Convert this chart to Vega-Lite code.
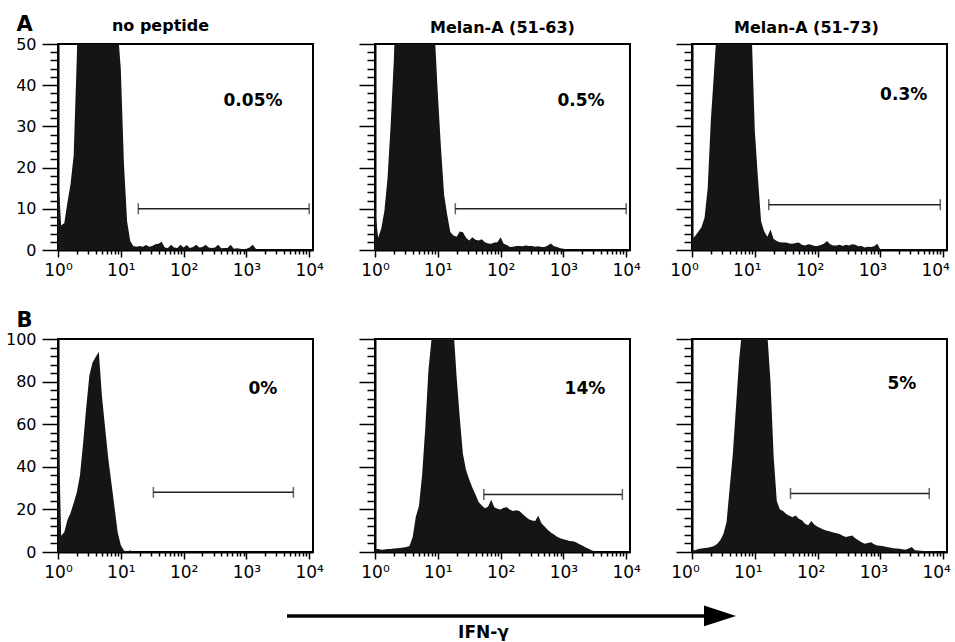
{
  "$schema": "https://vega.github.io/schema/vega-lite/v6.json",
  "background": "white",
  "padding": {"left": 4, "top": 12, "right": 3, "bottom": 0},
  "config": {
    "font": "DejaVu Sans",
    "view": {"stroke": "black", "strokeWidth": 2},
    "axis": {"domainColor": "black", "domainWidth": 2, "tickColor": "black", "tickWidth": 1.5, "labelColor": "black", "labelFont": "DejaVu Sans", "labelFontSize": 16, "titleColor": "black", "titleFont": "DejaVu Sans", "grid": false, "labelBound": false, "labelFlush": false, "labelOverlap": false},
    "axisX": {"labelFontSize": 17},
    "title": {"font": "DejaVu Sans", "fontSize": 16, "fontWeight": "bold", "color": "black", "offset": 7}
  },
  "datasets": {
    "hist": [
      {"x": 1, "a1": 19, "a2": 10, "a3": 2.7, "b1": 73, "b2": 1.4, "b3": 0.8},
      {"x": 1.122, "a1": 6, "a2": 3, "a3": 3.4, "b1": 7.6, "b2": 1.4, "b3": 0.8},
      {"x": 1.259, "a1": 6.5, "a2": 5.2, "a3": 4.4, "b1": 9.3, "b2": 1, "b3": 1.4},
      {"x": 1.413, "a1": 11.5, "a2": 9.5, "a3": 5.5, "b1": 15, "b2": 1.2, "b3": 1.6},
      {"x": 1.585, "a1": 16, "a2": 17.5, "a3": 7.8, "b1": 18.3, "b2": 1.4, "b3": 1.9},
      {"x": 1.778, "a1": 23, "a2": 30.5, "a3": 15, "b1": 23, "b2": 1.4, "b3": 2},
      {"x": 1.995, "a1": 47, "a2": 46, "a3": 31.5, "b1": 28, "b2": 1.6, "b3": 2.4},
      {"x": 2.239, "a1": 75, "a2": 70, "a3": 43, "b1": 36, "b2": 1.8, "b3": 2.8},
      {"x": 2.512, "a1": 95, "a2": 90, "a3": 55, "b1": 51, "b2": 1.9, "b3": 3.8},
      {"x": 2.818, "a1": 110, "a2": 105, "a3": 75, "b1": 68, "b2": 2.1, "b3": 5.5},
      {"x": 3.162, "a1": 120, "a2": 115, "a3": 95, "b1": 83, "b2": 2.3, "b3": 8.5},
      {"x": 3.548, "a1": 125, "a2": 120, "a3": 108, "b1": 89, "b2": 2.8, "b3": 14},
      {"x": 3.981, "a1": 125, "a2": 120, "a3": 115, "b1": 91.5, "b2": 7, "b3": 30},
      {"x": 4.467, "a1": 120, "a2": 115, "a3": 115, "b1": 94, "b2": 16.5, "b3": 46},
      {"x": 5.012, "a1": 110, "a2": 105, "a3": 110, "b1": 73, "b2": 21.6, "b3": 68},
      {"x": 5.623, "a1": 100, "a2": 95, "a3": 100, "b1": 58.5, "b2": 36, "b3": 90},
      {"x": 6.31, "a1": 85, "a2": 82, "a3": 88, "b1": 44, "b2": 58, "b3": 105},
      {"x": 7.079, "a1": 72, "a2": 70, "a3": 75, "b1": 32.5, "b2": 85, "b3": 115},
      {"x": 7.943, "a1": 62, "a2": 60, "a3": 62, "b1": 21, "b2": 100, "b3": 120},
      {"x": 8.913, "a1": 54, "a2": 53, "a3": 53, "b1": 9.3, "b2": 115, "b3": 122},
      {"x": 10, "a1": 44, "a2": 38, "a3": 29, "b1": 3.2, "b2": 125, "b3": 120},
      {"x": 11.22, "a1": 21, "a2": 25, "a3": 17.5, "b1": 0.7, "b2": 130, "b3": 118},
      {"x": 12.59, "a1": 7, "a2": 13.5, "a3": 7, "b1": 0, "b2": 130, "b3": 112},
      {"x": 14.13, "a1": 2.2, "a2": 8.5, "a3": 4.5, "b1": 0.8, "b2": 125, "b3": 106},
      {"x": 15.85, "a1": 1, "a2": 4.3, "a3": 3.2, "b1": 0, "b2": 115, "b3": 102},
      {"x": 17.78, "a1": 0.8, "a2": 3.5, "a3": 5, "b1": 0, "b2": 105, "b3": 80},
      {"x": 19.95, "a1": 1, "a2": 3.2, "a3": 2.7, "b1": 0, "b2": 82, "b3": 45},
      {"x": 22.39, "a1": 0.8, "a2": 4.5, "a3": 2.2, "b1": 0, "b2": 63, "b3": 24},
      {"x": 25.12, "a1": 1.2, "a2": 4.3, "a3": 1.9, "b1": 0, "b2": 46, "b3": 20},
      {"x": 28.18, "a1": 0.8, "a2": 3, "a3": 1.8, "b1": 0, "b2": 38.5, "b3": 19.3},
      {"x": 31.62, "a1": 1, "a2": 2.3, "a3": 1.8, "b1": 0, "b2": 34, "b3": 17.8},
      {"x": 35.48, "a1": 1.4, "a2": 3.1, "a3": 1.6, "b1": 0, "b2": 30.3, "b3": 17},
      {"x": 39.81, "a1": 1.5, "a2": 2.5, "a3": 1.5, "b1": 0, "b2": 27, "b3": 16.3},
      {"x": 44.67, "a1": 2, "a2": 2.3, "a3": 1.7, "b1": 0, "b2": 23.5, "b3": 17.1},
      {"x": 50.12, "a1": 0.6, "a2": 2.6, "a3": 1.8, "b1": 0, "b2": 21.8, "b3": 15.6},
      {"x": 56.23, "a1": 0.5, "a2": 1.9, "a3": 1.3, "b1": 0, "b2": 20.5, "b3": 14.9},
      {"x": 63.1, "a1": 1.3, "a2": 1.6, "a3": 1.1, "b1": 0, "b2": 21.2, "b3": 13.3},
      {"x": 70.79, "a1": 0.6, "a2": 1.5, "a3": 1.4, "b1": 0, "b2": 24.5, "b3": 12.6},
      {"x": 79.43, "a1": 0.5, "a2": 1.8, "a3": 1.3, "b1": 0, "b2": 21, "b3": 14.5},
      {"x": 89.13, "a1": 1.3, "a2": 1.9, "a3": 1, "b1": 0, "b2": 20.3, "b3": 12.8},
      {"x": 100, "a1": 0.6, "a2": 3.1, "a3": 1, "b1": 0, "b2": 20, "b3": 11.8},
      {"x": 112.2, "a1": 1.2, "a2": 1.5, "a3": 1.2, "b1": 0, "b2": 20.8, "b3": 11.2},
      {"x": 125.9, "a1": 0.5, "a2": 1.2, "a3": 1.5, "b1": 0, "b2": 21, "b3": 10.5},
      {"x": 141.3, "a1": 0.7, "a2": 0.7, "a3": 2.2, "b1": 0, "b2": 19.8, "b3": 10},
      {"x": 158.5, "a1": 1.3, "a2": 0.8, "a3": 1.4, "b1": 0, "b2": 19.3, "b3": 9.6},
      {"x": 177.8, "a1": 0.6, "a2": 1, "a3": 1.1, "b1": 0, "b2": 19.6, "b3": 9.2},
      {"x": 199.5, "a1": 0.7, "a2": 1, "a3": 1.1, "b1": 0, "b2": 19.2, "b3": 8.8},
      {"x": 223.9, "a1": 1.3, "a2": 0.9, "a3": 1.3, "b1": 0, "b2": 17.8, "b3": 8.4},
      {"x": 251.2, "a1": 0.6, "a2": 1.1, "a3": 1, "b1": 0, "b2": 16.5, "b3": 7.6},
      {"x": 281.8, "a1": 0.5, "a2": 1, "a3": 1.3, "b1": 0, "b2": 15.4, "b3": 7},
      {"x": 316.2, "a1": 0.6, "a2": 1, "a3": 1.1, "b1": 0, "b2": 14.8, "b3": 7.4},
      {"x": 354.8, "a1": 1.3, "a2": 0.8, "a3": 1.4, "b1": 0, "b2": 14.6, "b3": 7.8},
      {"x": 398.1, "a1": 0.4, "a2": 0.9, "a3": 1.3, "b1": 0, "b2": 17, "b3": 6.5},
      {"x": 446.7, "a1": 0.5, "a2": 0.7, "a3": 0.9, "b1": 0, "b2": 13.5, "b3": 5.5},
      {"x": 501.2, "a1": 0.5, "a2": 0.7, "a3": 1, "b1": 0, "b2": 12, "b3": 4.6},
      {"x": 562.3, "a1": 1.3, "a2": 1.1, "a3": 0.6, "b1": 0, "b2": 10.5, "b3": 3.9},
      {"x": 631, "a1": 0.3, "a2": 1.6, "a3": 0.8, "b1": 0, "b2": 9.2, "b3": 4.2},
      {"x": 707.9, "a1": 0.4, "a2": 0.9, "a3": 0.7, "b1": 0, "b2": 8.2, "b3": 4.6},
      {"x": 794.3, "a1": 0.3, "a2": 0.7, "a3": 0.9, "b1": 0, "b2": 7.2, "b3": 3.6},
      {"x": 891.3, "a1": 0.2, "a2": 0.4, "a3": 1.5, "b1": 0, "b2": 6.4, "b3": 3.1},
      {"x": 1000, "a1": 0.3, "a2": 0.3, "a3": 0.1, "b1": 0, "b2": 6, "b3": 2.9},
      {"x": 1122, "a1": 0.6, "a2": 0.2, "a3": 0, "b1": 0, "b2": 5.6, "b3": 2.7},
      {"x": 1259, "a1": 1.3, "a2": 0, "a3": 0, "b1": 0, "b2": 5.2, "b3": 2.4},
      {"x": 1413, "a1": 0.3, "a2": 0, "a3": 0, "b1": 0, "b2": 5, "b3": 2.1},
      {"x": 1585, "a1": 0, "a2": 0, "a3": 0, "b1": 0, "b2": 4.6, "b3": 1.8},
      {"x": 1778, "a1": 0, "a2": 0, "a3": 0, "b1": 0, "b2": 3.8, "b3": 1.7},
      {"x": 1995, "a1": 0, "a2": 0, "a3": 0, "b1": 0, "b2": 3, "b3": 1.5},
      {"x": 2239, "a1": 0, "a2": 0, "a3": 0, "b1": 0, "b2": 2.2, "b3": 1.3},
      {"x": 2512, "a1": 0, "a2": 0, "a3": 0, "b1": 0, "b2": 1.5, "b3": 1},
      {"x": 2818, "a1": 0, "a2": 0, "a3": 0, "b1": 0, "b2": 0.8, "b3": 1.6},
      {"x": 3162, "a1": 0, "a2": 0, "a3": 0, "b1": 0, "b2": 0.2, "b3": 2.4},
      {"x": 3548, "a1": 0, "a2": 0, "a3": 0, "b1": 0, "b2": 0, "b3": 0.8},
      {"x": 3981, "a1": 0, "a2": 0, "a3": 0, "b1": 0, "b2": 0, "b3": 0.7},
      {"x": 4467, "a1": 0, "a2": 0, "a3": 0, "b1": 0, "b2": 0, "b3": 0.6},
      {"x": 5012, "a1": 0, "a2": 0, "a3": 0, "b1": 0, "b2": 0, "b3": 0.5},
      {"x": 5623, "a1": 0, "a2": 0, "a3": 0, "b1": 0, "b2": 0, "b3": 0.4},
      {"x": 6310, "a1": 0, "a2": 0, "a3": 0, "b1": 0, "b2": 0, "b3": 0.3},
      {"x": 7079, "a1": 0, "a2": 0, "a3": 0, "b1": 0, "b2": 0, "b3": 0.1},
      {"x": 7943, "a1": 0, "a2": 0, "a3": 0, "b1": 0, "b2": 0, "b3": 0},
      {"x": 8913, "a1": 0, "a2": 0, "a3": 0, "b1": 0, "b2": 0, "b3": 0},
      {"x": 10000, "a1": 0, "a2": 0, "a3": 0, "b1": 0, "b2": 0, "b3": 0}
    ],
    "notes": [
      {"panel": "A1", "g1": 19, "g2": 10000, "gy": 10, "tx": 1274, "ty": 35, "label": "0.05%"},
      {"panel": "A2", "g1": 19, "g2": 10000, "gy": 10, "tx": 1905, "ty": 35, "label": "0.5%"},
      {"panel": "A3", "g1": 16.7, "g2": 9000, "gy": 11, "tx": 2350, "ty": 36.5, "label": "0.3%"},
      {"panel": "B1", "g1": 33, "g2": 5600, "gy": 28, "tx": 1830, "ty": 74, "label": "0%"},
      {"panel": "B2", "g1": 54, "g2": 8700, "gy": 27, "tx": 2200, "ty": 74, "label": "14%"},
      {"panel": "B3", "g1": 37, "g2": 6000, "gy": 27.5, "tx": 2200, "ty": 76.5, "label": "5%"}
    ],
    "arrow": [
      {"start": 0.0397, "end": 186000, "head": 312000, "level": -30}
    ]
  },
  "bounds": "flush",
  "columns": 3,
  "spacing": {"row": 89, "column": 62},
  "concat": [
    {
      "width": 255, "height": 206,
      "title": {"text": "no peptide", "dx": -25, "offset": -21},
      "resolve": {"axis": {"x": "independent", "y": "independent"}},
      "layer": [
        {"data": {"name": "hist"}, "mark": {"type": "area", "color": "#151515", "clip": true},
         "encoding": {
           "x": {"field": "x", "type": "quantitative", "scale": {"type": "log", "domain": [1, 11500], "nice": false},
                 "axis": {"orient": "bottom", "title": null, "values": [1, 10, 100, 1000, 10000], "tickSize": 7, "labelPadding": 5,
                          "labelExpr": "datum.value == 1 ? '10⁰' : datum.value == 10 ? '10¹' : datum.value == 100 ? '10²' : datum.value == 1000 ? '10³' : '10⁴'"}},
           "y": {"field": "a1", "type": "quantitative", "scale": {"domain": [0, 50], "nice": false},
                 "axis": {"orient": "left", "title": "A", "titleAngle": 0, "titleAlign": "left", "titleBaseline": "alphabetic", "titleX": -42, "titleY": -14, "titleFontSize": 21, "titleFontWeight": "bold",
                          "values": [0, 10, 20, 30, 40, 50], "tickSize": 16, "labelPadding": 6}}
         }},
        {"data": {"name": "notes"}, "transform": [{"filter": "datum.panel == 'A1'"}],
         "mark": {"type": "rule", "color": "#222222", "strokeWidth": 1.5},
         "encoding": {"x": {"field": "g1", "type": "quantitative", "scale": {"type": "log", "domain": [1, 11500], "nice": false},
                            "axis": {"orient": "bottom", "title": null, "labels": false, "domain": false, "tickSize": 4, "values": [2,3,4,5,6,7,8,9,20,30,40,50,60,70,80,90,200,300,400,500,600,700,800,900,2000,3000,4000,5000,6000,7000,8000,9000]}},
                      "x2": {"field": "g2"},
                      "y": {"field": "gy", "type": "quantitative", "scale": {"domain": [0, 50], "nice": false},
                            "axis": {"orient": "left", "title": null, "labels": false, "domain": false, "tickSize": 8, "values": [2,4,6,8,12,14,16,18,22,24,26,28,32,34,36,38,42,44,46,48]}}}},
        {"data": {"name": "notes"}, "transform": [{"filter": "datum.panel == 'A1'"}],
         "mark": {"type": "tick", "orient": "vertical", "size": 11, "thickness": 1.5, "color": "#222222"},
         "encoding": {"x": {"field": "g1", "type": "quantitative", "scale": {"type": "log", "domain": [1, 11500], "nice": false}, "axis": null},
                      "y": {"field": "gy", "type": "quantitative", "scale": {"domain": [0, 50], "nice": false}, "axis": null}}},
        {"data": {"name": "notes"}, "transform": [{"filter": "datum.panel == 'A1'"}],
         "mark": {"type": "tick", "orient": "vertical", "size": 11, "thickness": 1.5, "color": "#222222"},
         "encoding": {"x": {"field": "g2", "type": "quantitative", "scale": {"type": "log", "domain": [1, 11500], "nice": false}, "axis": null},
                      "y": {"field": "gy", "type": "quantitative", "scale": {"domain": [0, 50], "nice": false}, "axis": null}}},
        {"data": {"name": "notes"}, "transform": [{"filter": "datum.panel == 'A1'"}],
         "mark": {"type": "text", "font": "DejaVu Sans", "fontSize": 17, "fontWeight": "bold", "align": "center", "baseline": "alphabetic", "color": "black"},
         "encoding": {"x": {"field": "tx", "type": "quantitative", "scale": {"type": "log", "domain": [1, 11500], "nice": false}, "axis": null},
                      "y": {"field": "ty", "type": "quantitative", "scale": {"domain": [0, 50], "nice": false}, "axis": null},
                      "text": {"field": "label"}}}
      ]
    },
    {
      "width": 255, "height": 206,
      "title": {"text": "Melan-A (51-63)"},
      "resolve": {"axis": {"x": "independent", "y": "independent"}},
      "layer": [
        {"data": {"name": "hist"}, "mark": {"type": "area", "color": "#151515", "clip": true},
         "encoding": {
           "x": {"field": "x", "type": "quantitative", "scale": {"type": "log", "domain": [1, 11500], "nice": false},
                 "axis": {"orient": "bottom", "title": null, "values": [1, 10, 100, 1000, 10000], "tickSize": 7, "labelPadding": 5,
                          "labelExpr": "datum.value == 1 ? '10⁰' : datum.value == 10 ? '10¹' : datum.value == 100 ? '10²' : datum.value == 1000 ? '10³' : '10⁴'"}},
           "y": {"field": "a2", "type": "quantitative", "scale": {"domain": [0, 50], "nice": false},
                 "axis": {"orient": "left", "title": null, "labels": false, "values": [0, 10, 20, 30, 40, 50], "tickSize": 16}}
         }},
        {"data": {"name": "notes"}, "transform": [{"filter": "datum.panel == 'A2'"}],
         "mark": {"type": "rule", "color": "#222222", "strokeWidth": 1.5},
         "encoding": {"x": {"field": "g1", "type": "quantitative", "scale": {"type": "log", "domain": [1, 11500], "nice": false},
                            "axis": {"orient": "bottom", "title": null, "labels": false, "domain": false, "tickSize": 4, "values": [2,3,4,5,6,7,8,9,20,30,40,50,60,70,80,90,200,300,400,500,600,700,800,900,2000,3000,4000,5000,6000,7000,8000,9000]}},
                      "x2": {"field": "g2"},
                      "y": {"field": "gy", "type": "quantitative", "scale": {"domain": [0, 50], "nice": false},
                            "axis": {"orient": "left", "title": null, "labels": false, "domain": false, "tickSize": 8, "values": [2,4,6,8,12,14,16,18,22,24,26,28,32,34,36,38,42,44,46,48]}}}},
        {"data": {"name": "notes"}, "transform": [{"filter": "datum.panel == 'A2'"}],
         "mark": {"type": "tick", "orient": "vertical", "size": 11, "thickness": 1.5, "color": "#222222"},
         "encoding": {"x": {"field": "g1", "type": "quantitative", "scale": {"type": "log", "domain": [1, 11500], "nice": false}, "axis": null},
                      "y": {"field": "gy", "type": "quantitative", "scale": {"domain": [0, 50], "nice": false}, "axis": null}}},
        {"data": {"name": "notes"}, "transform": [{"filter": "datum.panel == 'A2'"}],
         "mark": {"type": "tick", "orient": "vertical", "size": 11, "thickness": 1.5, "color": "#222222"},
         "encoding": {"x": {"field": "g2", "type": "quantitative", "scale": {"type": "log", "domain": [1, 11500], "nice": false}, "axis": null},
                      "y": {"field": "gy", "type": "quantitative", "scale": {"domain": [0, 50], "nice": false}, "axis": null}}},
        {"data": {"name": "notes"}, "transform": [{"filter": "datum.panel == 'A2'"}],
         "mark": {"type": "text", "font": "DejaVu Sans", "fontSize": 17, "fontWeight": "bold", "align": "center", "baseline": "alphabetic", "color": "black"},
         "encoding": {"x": {"field": "tx", "type": "quantitative", "scale": {"type": "log", "domain": [1, 11500], "nice": false}, "axis": null},
                      "y": {"field": "ty", "type": "quantitative", "scale": {"domain": [0, 50], "nice": false}, "axis": null},
                      "text": {"field": "label"}}}
      ]
    },
    {
      "width": 255, "height": 206,
      "title": {"text": "Melan-A (51-73)", "dx": -13},
      "resolve": {"axis": {"x": "independent", "y": "independent"}},
      "layer": [
        {"data": {"name": "hist"}, "mark": {"type": "area", "color": "#151515", "clip": true},
         "encoding": {
           "x": {"field": "x", "type": "quantitative", "scale": {"type": "log", "domain": [1, 11500], "nice": false},
                 "axis": {"orient": "bottom", "title": null, "values": [1, 10, 100, 1000, 10000], "tickSize": 7, "labelPadding": 5, "labelOffset": -8,
                          "labelExpr": "datum.value == 1 ? '10⁰' : datum.value == 10 ? '10¹' : datum.value == 100 ? '10²' : datum.value == 1000 ? '10³' : '10⁴'"}},
           "y": {"field": "a3", "type": "quantitative", "scale": {"domain": [0, 50], "nice": false},
                 "axis": {"orient": "left", "title": null, "labels": false, "values": [0, 10, 20, 30, 40, 50], "tickSize": 16}}
         }},
        {"data": {"name": "notes"}, "transform": [{"filter": "datum.panel == 'A3'"}],
         "mark": {"type": "rule", "color": "#222222", "strokeWidth": 1.5},
         "encoding": {"x": {"field": "g1", "type": "quantitative", "scale": {"type": "log", "domain": [1, 11500], "nice": false},
                            "axis": {"orient": "bottom", "title": null, "labels": false, "domain": false, "tickSize": 4, "values": [2,3,4,5,6,7,8,9,20,30,40,50,60,70,80,90,200,300,400,500,600,700,800,900,2000,3000,4000,5000,6000,7000,8000,9000]}},
                      "x2": {"field": "g2"},
                      "y": {"field": "gy", "type": "quantitative", "scale": {"domain": [0, 50], "nice": false},
                            "axis": {"orient": "left", "title": null, "labels": false, "domain": false, "tickSize": 8, "values": [2,4,6,8,12,14,16,18,22,24,26,28,32,34,36,38,42,44,46,48]}}}},
        {"data": {"name": "notes"}, "transform": [{"filter": "datum.panel == 'A3'"}],
         "mark": {"type": "tick", "orient": "vertical", "size": 11, "thickness": 1.5, "color": "#222222"},
         "encoding": {"x": {"field": "g1", "type": "quantitative", "scale": {"type": "log", "domain": [1, 11500], "nice": false}, "axis": null},
                      "y": {"field": "gy", "type": "quantitative", "scale": {"domain": [0, 50], "nice": false}, "axis": null}}},
        {"data": {"name": "notes"}, "transform": [{"filter": "datum.panel == 'A3'"}],
         "mark": {"type": "tick", "orient": "vertical", "size": 11, "thickness": 1.5, "color": "#222222"},
         "encoding": {"x": {"field": "g2", "type": "quantitative", "scale": {"type": "log", "domain": [1, 11500], "nice": false}, "axis": null},
                      "y": {"field": "gy", "type": "quantitative", "scale": {"domain": [0, 50], "nice": false}, "axis": null}}},
        {"data": {"name": "notes"}, "transform": [{"filter": "datum.panel == 'A3'"}],
         "mark": {"type": "text", "font": "DejaVu Sans", "fontSize": 17, "fontWeight": "bold", "align": "center", "baseline": "alphabetic", "color": "black"},
         "encoding": {"x": {"field": "tx", "type": "quantitative", "scale": {"type": "log", "domain": [1, 11500], "nice": false}, "axis": null},
                      "y": {"field": "ty", "type": "quantitative", "scale": {"domain": [0, 50], "nice": false}, "axis": null},
                      "text": {"field": "label"}}}
      ]
    },
    {
      "width": 255, "height": 213,
      "resolve": {"axis": {"x": "independent", "y": "independent"}},
      "layer": [
        {"data": {"name": "hist"}, "mark": {"type": "area", "color": "#151515", "clip": true},
         "encoding": {
           "x": {"field": "x", "type": "quantitative", "scale": {"type": "log", "domain": [1, 11500], "nice": false},
                 "axis": {"orient": "bottom", "title": null, "values": [1, 10, 100, 1000, 10000], "tickSize": 7, "labelPadding": 5,
                          "labelExpr": "datum.value == 1 ? '10⁰' : datum.value == 10 ? '10¹' : datum.value == 100 ? '10²' : datum.value == 1000 ? '10³' : '10⁴'"}},
           "y": {"field": "b1", "type": "quantitative", "scale": {"domain": [0, 100], "nice": false},
                 "axis": {"orient": "left", "title": "B", "titleAngle": 0, "titleAlign": "left", "titleBaseline": "alphabetic", "titleX": -42, "titleY": -13, "titleFontSize": 21, "titleFontWeight": "bold",
                          "values": [0, 20, 40, 60, 80, 100], "tickSize": 16, "labelPadding": 6}}
         }},
        {"data": {"name": "notes"}, "transform": [{"filter": "datum.panel == 'B1'"}],
         "mark": {"type": "rule", "color": "#222222", "strokeWidth": 1.5},
         "encoding": {"x": {"field": "g1", "type": "quantitative", "scale": {"type": "log", "domain": [1, 11500], "nice": false},
                            "axis": {"orient": "bottom", "title": null, "labels": false, "domain": false, "tickSize": 4, "values": [2,3,4,5,6,7,8,9,20,30,40,50,60,70,80,90,200,300,400,500,600,700,800,900,2000,3000,4000,5000,6000,7000,8000,9000]}},
                      "x2": {"field": "g2"},
                      "y": {"field": "gy", "type": "quantitative", "scale": {"domain": [0, 100], "nice": false},
                            "axis": {"orient": "left", "title": null, "labels": false, "domain": false, "tickSize": 8, "values": [4,8,12,16,24,28,32,36,44,48,52,56,64,68,72,76,84,88,92,96]}}}},
        {"data": {"name": "notes"}, "transform": [{"filter": "datum.panel == 'B1'"}],
         "mark": {"type": "tick", "orient": "vertical", "size": 11, "thickness": 1.5, "color": "#222222"},
         "encoding": {"x": {"field": "g1", "type": "quantitative", "scale": {"type": "log", "domain": [1, 11500], "nice": false}, "axis": null},
                      "y": {"field": "gy", "type": "quantitative", "scale": {"domain": [0, 100], "nice": false}, "axis": null}}},
        {"data": {"name": "notes"}, "transform": [{"filter": "datum.panel == 'B1'"}],
         "mark": {"type": "tick", "orient": "vertical", "size": 11, "thickness": 1.5, "color": "#222222"},
         "encoding": {"x": {"field": "g2", "type": "quantitative", "scale": {"type": "log", "domain": [1, 11500], "nice": false}, "axis": null},
                      "y": {"field": "gy", "type": "quantitative", "scale": {"domain": [0, 100], "nice": false}, "axis": null}}},
        {"data": {"name": "notes"}, "transform": [{"filter": "datum.panel == 'B1'"}],
         "mark": {"type": "text", "font": "DejaVu Sans", "fontSize": 17, "fontWeight": "bold", "align": "center", "baseline": "alphabetic", "color": "black"},
         "encoding": {"x": {"field": "tx", "type": "quantitative", "scale": {"type": "log", "domain": [1, 11500], "nice": false}, "axis": null},
                      "y": {"field": "ty", "type": "quantitative", "scale": {"domain": [0, 100], "nice": false}, "axis": null},
                      "text": {"field": "label"}}}
      ]
    },
    {
      "width": 255, "height": 213,
      "resolve": {"axis": {"x": "independent", "y": "independent"}},
      "layer": [
        {"data": {"name": "hist"}, "mark": {"type": "area", "color": "#151515", "clip": true},
         "encoding": {
           "x": {"field": "x", "type": "quantitative", "scale": {"type": "log", "domain": [1, 11500], "nice": false},
                 "axis": {"orient": "bottom", "title": "IFN-γ", "titleX": 108, "titleY": 85, "titleAlign": "center", "titleBaseline": "alphabetic", "titleFontSize": 17, "titleFontWeight": "bold",
                          "values": [1, 10, 100, 1000, 10000], "tickSize": 7, "labelPadding": 5,
                          "labelExpr": "datum.value == 1 ? '10⁰' : datum.value == 10 ? '10¹' : datum.value == 100 ? '10²' : datum.value == 1000 ? '10³' : '10⁴'"}},
           "y": {"field": "b2", "type": "quantitative", "scale": {"domain": [0, 100], "nice": false},
                 "axis": {"orient": "left", "title": null, "labels": false, "values": [0, 20, 40, 60, 80, 100], "tickSize": 16}}
         }},
        {"data": {"name": "notes"}, "transform": [{"filter": "datum.panel == 'B2'"}],
         "mark": {"type": "rule", "color": "#222222", "strokeWidth": 1.5},
         "encoding": {"x": {"field": "g1", "type": "quantitative", "scale": {"type": "log", "domain": [1, 11500], "nice": false},
                            "axis": {"orient": "bottom", "title": null, "labels": false, "domain": false, "tickSize": 4, "values": [2,3,4,5,6,7,8,9,20,30,40,50,60,70,80,90,200,300,400,500,600,700,800,900,2000,3000,4000,5000,6000,7000,8000,9000]}},
                      "x2": {"field": "g2"},
                      "y": {"field": "gy", "type": "quantitative", "scale": {"domain": [0, 100], "nice": false},
                            "axis": {"orient": "left", "title": null, "labels": false, "domain": false, "tickSize": 8, "values": [4,8,12,16,24,28,32,36,44,48,52,56,64,68,72,76,84,88,92,96]}}}},
        {"data": {"name": "notes"}, "transform": [{"filter": "datum.panel == 'B2'"}],
         "mark": {"type": "tick", "orient": "vertical", "size": 11, "thickness": 1.5, "color": "#222222"},
         "encoding": {"x": {"field": "g1", "type": "quantitative", "scale": {"type": "log", "domain": [1, 11500], "nice": false}, "axis": null},
                      "y": {"field": "gy", "type": "quantitative", "scale": {"domain": [0, 100], "nice": false}, "axis": null}}},
        {"data": {"name": "notes"}, "transform": [{"filter": "datum.panel == 'B2'"}],
         "mark": {"type": "tick", "orient": "vertical", "size": 11, "thickness": 1.5, "color": "#222222"},
         "encoding": {"x": {"field": "g2", "type": "quantitative", "scale": {"type": "log", "domain": [1, 11500], "nice": false}, "axis": null},
                      "y": {"field": "gy", "type": "quantitative", "scale": {"domain": [0, 100], "nice": false}, "axis": null}}},
        {"data": {"name": "notes"}, "transform": [{"filter": "datum.panel == 'B2'"}],
         "mark": {"type": "text", "font": "DejaVu Sans", "fontSize": 17, "fontWeight": "bold", "align": "center", "baseline": "alphabetic", "color": "black"},
         "encoding": {"x": {"field": "tx", "type": "quantitative", "scale": {"type": "log", "domain": [1, 11500], "nice": false}, "axis": null},
                      "y": {"field": "ty", "type": "quantitative", "scale": {"domain": [0, 100], "nice": false}, "axis": null},
                      "text": {"field": "label"}}},
        {"data": {"name": "arrow"},
         "mark": {"type": "rule", "color": "black", "strokeWidth": 3.5},
         "encoding": {"x": {"field": "start", "type": "quantitative", "scale": {"type": "log", "domain": [1, 11500], "nice": false}, "axis": null}, "x2": {"field": "end"},
                      "y": {"field": "level", "type": "quantitative", "scale": {"domain": [0, 100], "nice": false}, "axis": null}}},
        {"data": {"name": "arrow"},
         "mark": {"type": "point", "shape": "M -1 -0.65 L 1 0 L -1 0.65 Z", "filled": true, "color": "black", "opacity": 1, "size": 1024},
         "encoding": {"x": {"field": "head", "type": "quantitative", "scale": {"type": "log", "domain": [1, 11500], "nice": false}, "axis": null},
                      "y": {"field": "level", "type": "quantitative", "scale": {"domain": [0, 100], "nice": false}, "axis": null}}}
      ]
    },
    {
      "width": 255, "height": 213,
      "resolve": {"axis": {"x": "independent", "y": "independent"}},
      "layer": [
        {"data": {"name": "hist"}, "mark": {"type": "area", "color": "#151515", "clip": true},
         "encoding": {
           "x": {"field": "x", "type": "quantitative", "scale": {"type": "log", "domain": [1, 11500], "nice": false},
                 "axis": {"orient": "bottom", "title": null, "values": [1, 10, 100, 1000, 10000], "tickSize": 7, "labelPadding": 5, "labelOffset": -7,
                          "labelExpr": "datum.value == 1 ? '10⁰' : datum.value == 10 ? '10¹' : datum.value == 100 ? '10²' : datum.value == 1000 ? '10³' : '10⁴'"}},
           "y": {"field": "b3", "type": "quantitative", "scale": {"domain": [0, 100], "nice": false},
                 "axis": {"orient": "left", "title": null, "labels": false, "values": [0, 20, 40, 60, 80, 100], "tickSize": 16}}
         }},
        {"data": {"name": "notes"}, "transform": [{"filter": "datum.panel == 'B3'"}],
         "mark": {"type": "rule", "color": "#222222", "strokeWidth": 1.5},
         "encoding": {"x": {"field": "g1", "type": "quantitative", "scale": {"type": "log", "domain": [1, 11500], "nice": false},
                            "axis": {"orient": "bottom", "title": null, "labels": false, "domain": false, "tickSize": 4, "values": [2,3,4,5,6,7,8,9,20,30,40,50,60,70,80,90,200,300,400,500,600,700,800,900,2000,3000,4000,5000,6000,7000,8000,9000]}},
                      "x2": {"field": "g2"},
                      "y": {"field": "gy", "type": "quantitative", "scale": {"domain": [0, 100], "nice": false},
                            "axis": {"orient": "left", "title": null, "labels": false, "domain": false, "tickSize": 8, "values": [4,8,12,16,24,28,32,36,44,48,52,56,64,68,72,76,84,88,92,96]}}}},
        {"data": {"name": "notes"}, "transform": [{"filter": "datum.panel == 'B3'"}],
         "mark": {"type": "tick", "orient": "vertical", "size": 11, "thickness": 1.5, "color": "#222222"},
         "encoding": {"x": {"field": "g1", "type": "quantitative", "scale": {"type": "log", "domain": [1, 11500], "nice": false}, "axis": null},
                      "y": {"field": "gy", "type": "quantitative", "scale": {"domain": [0, 100], "nice": false}, "axis": null}}},
        {"data": {"name": "notes"}, "transform": [{"filter": "datum.panel == 'B3'"}],
         "mark": {"type": "tick", "orient": "vertical", "size": 11, "thickness": 1.5, "color": "#222222"},
         "encoding": {"x": {"field": "g2", "type": "quantitative", "scale": {"type": "log", "domain": [1, 11500], "nice": false}, "axis": null},
                      "y": {"field": "gy", "type": "quantitative", "scale": {"domain": [0, 100], "nice": false}, "axis": null}}},
        {"data": {"name": "notes"}, "transform": [{"filter": "datum.panel == 'B3'"}],
         "mark": {"type": "text", "font": "DejaVu Sans", "fontSize": 17, "fontWeight": "bold", "align": "center", "baseline": "alphabetic", "color": "black"},
         "encoding": {"x": {"field": "tx", "type": "quantitative", "scale": {"type": "log", "domain": [1, 11500], "nice": false}, "axis": null},
                      "y": {"field": "ty", "type": "quantitative", "scale": {"domain": [0, 100], "nice": false}, "axis": null},
                      "text": {"field": "label"}}}
      ]
    }
  ]
}
